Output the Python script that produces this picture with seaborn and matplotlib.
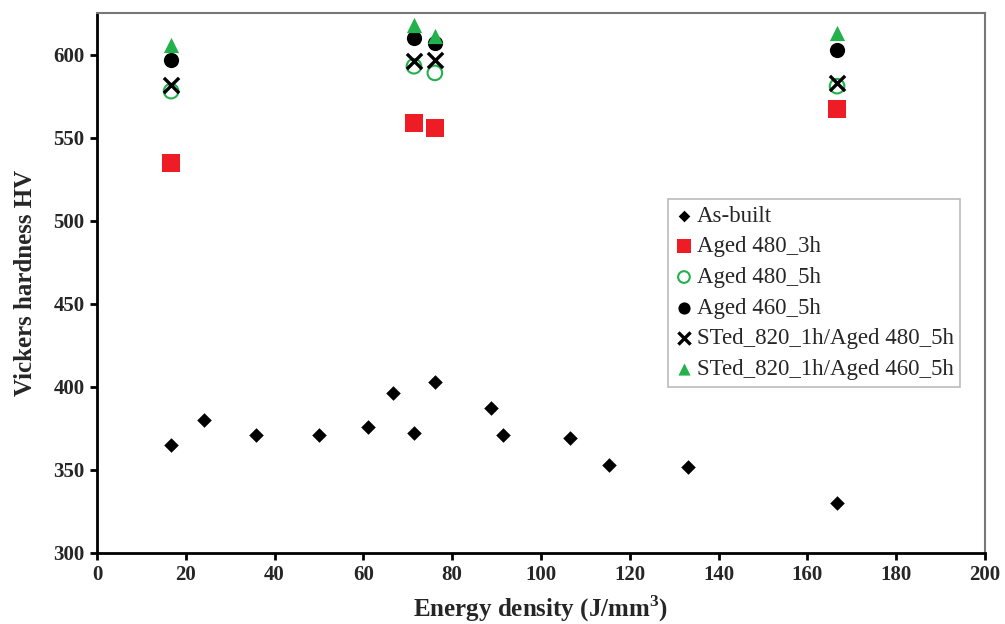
import matplotlib.pyplot as plt
import seaborn as sns
import pandas as pd

# As-built samples
asbuilt_x = [16.7, 24.0, 35.8, 50.0, 61.0, 66.6, 71.4, 76.1, 88.7, 91.4, 106.5, 115.3, 133.1, 166.7]
asbuilt_y = [365, 380, 371, 371, 376, 396, 372, 403, 387, 371, 369, 353, 352, 330]

# heat-treated samples (same four energy densities)
treated_x = [16.7, 71.4, 76.1, 166.7]
aged480_3h = [535, 559, 556, 567]
aged480_5h = [578, 593, 589, 581]
aged460_5h = [597, 610, 607, 603]
st_aged480_5h = [582, 596, 597, 583]
st_aged460_5h = [606, 618, 611, 613]

sns.set_style("white")
plt.rcParams['font.family'] = ['Liberation Serif', 'DejaVu Serif']
plt.rcParams['font.weight'] = 'bold'

fig = plt.figure(figsize=(10.05, 6.24), dpi=100)
ax = fig.add_axes([0.0965, 0.114, 0.8835, 0.865])

red = "#ee1c25"
green = "#22b14c"

sns.scatterplot(x=asbuilt_x, y=asbuilt_y, marker="D", s=55, color="black",
                edgecolor="black", linewidth=0, label="As-built", ax=ax)
sns.scatterplot(x=treated_x, y=aged480_3h, marker="s", s=150, color=red,
                edgecolor=red, linewidth=0, label="Aged 480_3h", ax=ax)
sns.scatterplot(x=treated_x, y=aged480_5h, marker="o", s=110, facecolors="none",
                edgecolor=green, linewidth=1.5, label="Aged 480_5h", ax=ax)
sns.scatterplot(x=treated_x, y=aged460_5h, marker="o", s=120, color="black",
                edgecolor="black", linewidth=0, label="Aged 460_5h", ax=ax)
sns.scatterplot(x=treated_x, y=st_aged480_5h, marker="x", s=120, color="black",
                linewidth=2.4, label="STed_820_1h/Aged 480_5h", ax=ax)
sns.scatterplot(x=treated_x, y=st_aged460_5h, marker="^", s=120, color=green,
                edgecolor=green, linewidth=0, label="STed_820_1h/Aged 460_5h", ax=ax)

ax.set_xlim(0, 200)
ax.set_ylim(300, 625)
ax.set_xticks(range(0, 201, 20))
ax.set_yticks(range(300, 601, 50))

for side in ["left", "bottom"]:
    ax.spines[side].set_color("black")
    ax.spines[side].set_linewidth(2)
for side in ["top", "right"]:
    ax.spines[side].set_color("#777777")
    ax.spines[side].set_linewidth(1.5)

ax.tick_params(axis="both", direction="out", length=5, width=2, color="black",
               labelsize=15, bottom=True, left=True, pad=4)
for lbl in ax.get_xticklabels() + ax.get_yticklabels():
    lbl.set_fontweight("bold")

ax.set_xlabel("Energy density (J/mm$^\\mathregular{3}$)", fontsize=18, fontweight="bold",
              labelpad=6)
ax.set_ylabel("Vickers hardness HV", fontsize=18, fontweight="bold", labelpad=12)

leg = ax.legend(loc="upper left", bbox_to_anchor=(0.643, 0.656), frameon=True,
                fancybox=False, edgecolor="#aaaaaa", handlelength=0.8, markerscale=0.8,
                handletextpad=0.15, borderpad=0.3, labelspacing=0.42, borderaxespad=0,
                prop={"family": "Liberation Serif", "weight": "normal", "size": 16.5})
leg.get_frame().set_linewidth(1.2)

plt.savefig("out.png", dpi=100)
plt.close()
